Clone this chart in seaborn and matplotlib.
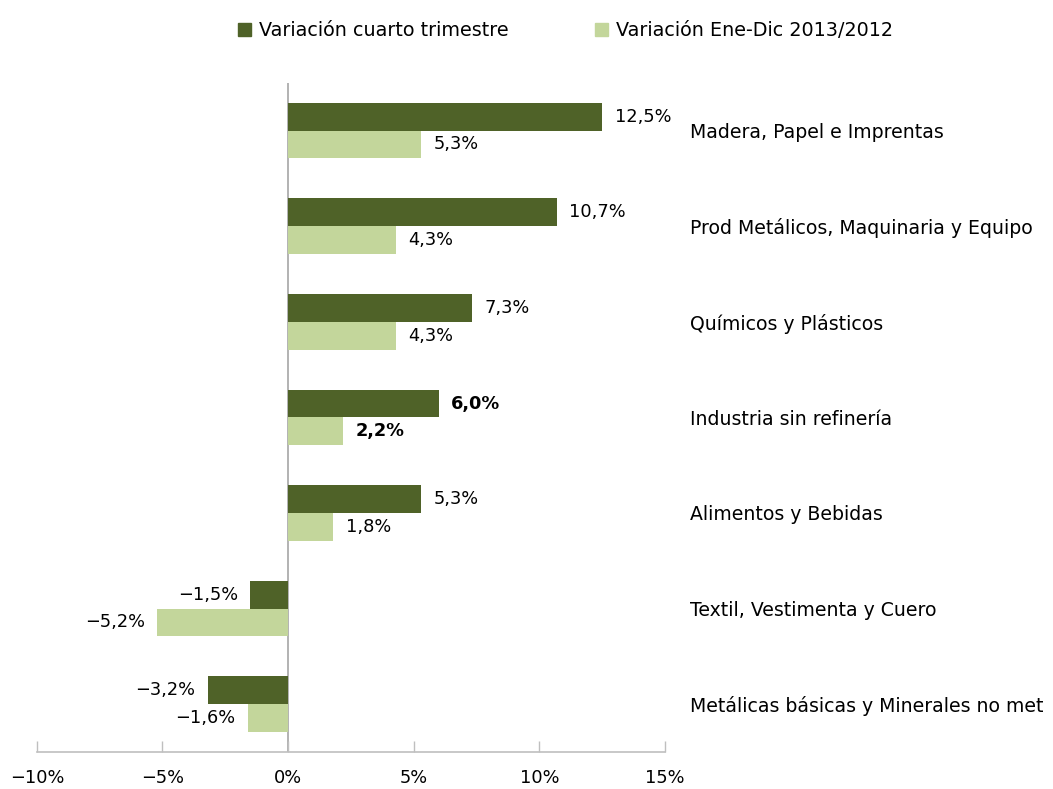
import pandas as pd
import matplotlib
matplotlib.use("Agg")
import matplotlib.pyplot as plt
import seaborn as sns

# === data ===
categories = ["Madera, Papel e Imprentas",
              "Prod Metálicos, Maquinaria y Equipo",
              "Químicos y Plásticos",
              "Industria sin refinería",
              "Alimentos y Bebidas",
              "Textil, Vestimenta y Cuero",
              "Metálicas básicas y Minerales no met"]
var_q4 = [12.5, 10.7, 7.3, 6.0, 5.3, -1.5, -3.2]
var_year = [5.3, 4.3, 4.3, 2.2, 1.8, -5.2, -1.6]
series_names = ["Variación cuarto trimestre", "Variación Ene-Dic 2013/2012"]
x_ticks = [-10, -5, 0, 5, 10, 15]
bold_category = "Industria sin refinería"

colors = ["#4F6228", "#C3D69B"]

df = pd.DataFrame({
    "Sector": categories * 2,
    "Serie": [series_names[0]] * len(categories) + [series_names[1]] * len(categories),
    "Valor": var_q4 + var_year,
})

sns.set_style("white")
plt.rcParams["font.family"] = ["DejaVu Sans"]

fig = plt.figure(figsize=(10.53, 7.89), dpi=100)
ax = fig.add_axes([0.035, 0.047, 0.5965, 0.848])

sns.barplot(data=df, y="Sector", x="Valor", hue="Serie", order=categories,
            hue_order=series_names, palette=colors, orient="h", width=0.58,
            saturation=1, linewidth=0, edgecolor="none", ax=ax, legend=False)

def fmt(v):
    return f"{v:.1f}%".replace(".", ",").replace("-", "\u2212")

for cont, vals in zip(ax.containers, [var_q4, var_year]):
    texts = ax.bar_label(cont, labels=[fmt(v) for v in vals], padding=9,
                         fontsize=12.8, color="black")
    for t, cat in zip(texts, categories):
        if cat == bold_category:
            t.set_fontweight("bold")

ax.set_xlim(-10, 15)
ax.set_xticks(x_ticks)
ax.set_xticklabels([f"{t}%".replace("-", "\u2212") for t in x_ticks], fontsize=12.8)
ax.axvline(0, color="#A6A6A6", lw=1.2, zorder=0)

ax.yaxis.tick_right()
ax.tick_params(axis="y", length=0, pad=18, labelsize=13.6, labelcolor="black")
for lbl in ax.get_yticklabels():
    lbl.set_y(lbl.get_position()[1])
    lbl.set_va("center_baseline")
ax.tick_params(axis="x", bottom=True, direction="in", length=8, width=1.0,
               color="#BFBFBF", pad=12, labelcolor="black")
ax.set_xlabel("")
ax.set_ylabel("")

for side in ["top", "left", "right"]:
    ax.spines[side].set_visible(False)
ax.spines["bottom"].set_color("#BFBFBF")
ax.spines["bottom"].set_linewidth(1.2)

handles = [plt.Rectangle((0, 0), 1, 1, color=c) for c in colors]
fig.legend(handles, series_names, loc="upper center", bbox_to_anchor=(0.537, 0.995),
           ncol=2, frameon=False, fontsize=13.8, handlelength=0.7, handleheight=0.7,
           handletextpad=0.4, columnspacing=4.5, labelcolor="black")

fig.savefig("out.png", dpi=100)
